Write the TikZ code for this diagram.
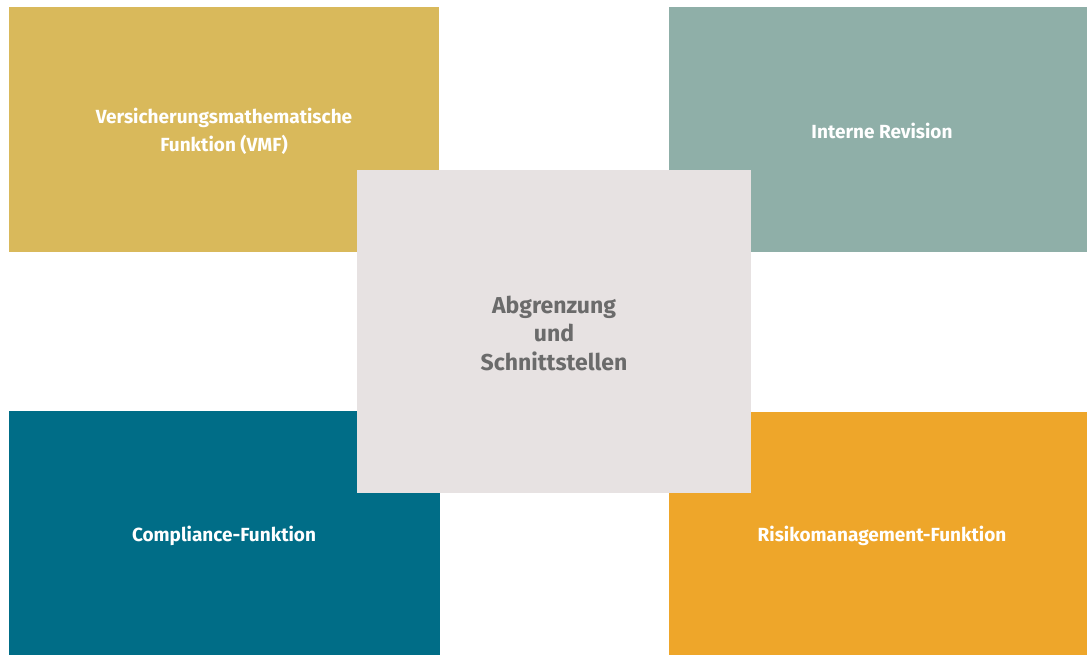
\documentclass[tikz,border=0pt]{standalone}
\usepackage{fontspec}
\setmainfont{Fira Sans}
\definecolor{cyellow}{HTML}{D9B95B}
\definecolor{cteal}{HTML}{8FAFA8}
\definecolor{ccenter}{HTML}{E7E2E2}
\definecolor{cblue}{HTML}{006D87}
\definecolor{corange}{HTML}{EEA62A}
\definecolor{ctext}{HTML}{6B6B6B}
\tikzset{
  tile/.style={fill=#1, draw=none},
  tilelabel/.style={text=white, font=\bfseries\fontsize{19}{28}\selectfont, align=center},
  centerlabel/.style={text=ctext, font=\bfseries\fontsize{23}{28.5}\selectfont, align=center}
}
\begin{document}
\begin{tikzpicture}[x=1pt,y=-1pt]
\useasboundingbox (0,0) rectangle (1087,655);
\fill[white] (0,0) rectangle (1087,655);
\path[tile=cyellow] (9,7) rectangle (439,252);
\node[tilelabel] (vmf) at (224,131) {Versicherungsmathematische\\Funktion (VMF)};
\path[tile=cteal] (669,7) rectangle (1087,252);
\node[tilelabel] (ir) at (882,131) {Interne Revision};
\path[tile=cblue] (9,411) rectangle (440,655);
\node[tilelabel] (cf) at (224,536) {Compliance-Funktion};
\path[tile=corange] (669,412) rectangle (1087,655);
\node[tilelabel] (rf) at (882,536) {Risikomanagement-Funktion};
\path[tile=ccenter] (357,170) rectangle (751,493);
\node[centerlabel] (ab) at (554,333) {Abgrenzung\\und\\Schnittstellen};
\end{tikzpicture}
\end{document}
